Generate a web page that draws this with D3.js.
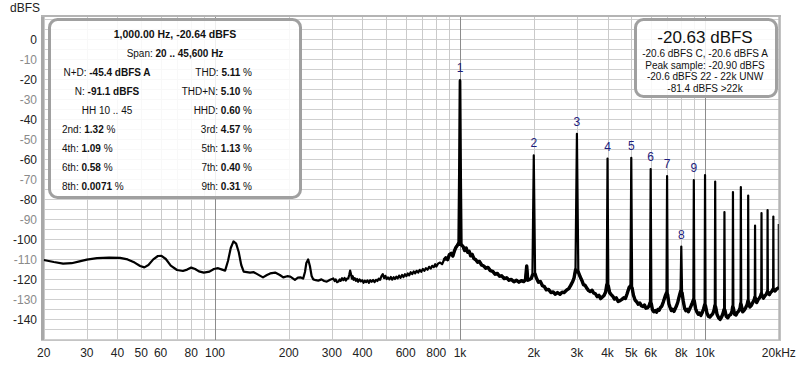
<!DOCTYPE html>
<html>
<head>
<meta charset="utf-8">
<script src="https://cdn.jsdelivr.net/npm/d3@7"></script>
<style>
  html, body { margin: 0; padding: 0; background: #fff; }
  svg { display: block; font-family: "Liberation Sans", Arial, sans-serif; }
</style>
</head>
<body>
<div id="main"></div>
<script>
// noise floor of the spectrum, [Hz, dBFS]
const noiseFloor = [
  [20,-110.5],[22,-111.5],[24,-112.3],[26,-112.1],[28,-111.2],[30,-110.3],[33,-109.6],[37,-109.3],[41,-109.4],
  [44,-110.2],[47,-111.8],[49.5,-113.5],[51.5,-114.2],[53.5,-113],[56,-110.2],[58.5,-108.5],[60.5,-108.4],
  [63,-110],[66,-113.3],[70,-115.5],[74,-116],[77,-115.3],[80,-114.3],[83,-115],[86,-116.2],[90,-116.8],
  [95,-116.3],[99,-115],[103,-114.6],[107,-115.3],[110,-115.8],[113,-111],[116,-104.5],[119,-101.2],
  [122,-102.3],[125,-106.5],[128,-113],[131,-116.3],[139,-116.8],[144,-116.6],[150,-117.8],[157,-119.2],
  [163,-118],[168,-117.2],[176,-116.8],[184,-118],[190,-119.2],[197,-118.6],[203,-118.8],[212,-120.4],
  [218,-119.3],[224,-119.2],[229,-119.8],[233,-116.5],[236,-112],[240,-110.2],[244,-113.5],[248,-118.5],
  [252,-120.2],[258,-120.6],[264,-120.8],[272,-120.2],[279,-121],[286,-121.3],[295,-120.4],
  [304,-119.7],[308,-121],[311,-120.2],[315,-121.6],[319,-121.3],[323,-120.2],[326,-120.9],[330,-119.6],
  [334,-120.6],[338,-119.5],[342,-120.8],[346,-119.8],[350,-119.7],[353,-118],[356,-115.8],[359,-117.5],
  [362,-119.8],[365,-118.6],[368,-120.4],[372,-119.6],[376,-120.9],[380,-120],[384,-121.4],[389,-120.2],
  [394,-121.2],[399,-120.6],[404,-121.9],[409,-120.8],[414,-121.6],[419,-120.7],[425,-121.9],[430,-120.6],
  [436,-121.4],[442,-120.5],[448,-121.6],[454,-120.4],[460,-121],[466,-119.8],[472,-120.4],[478,-118.6],
  [484,-117.6],[490,-119.6],[496,-118.4],[502,-120],[508,-119.2],[515,-120.2],[522,-119],[529,-120.3],
  [536,-119.1],[543,-120],[550,-118.8],[557,-119.7],[564,-118.3],[572,-119.4],[580,-118],[588,-119],
  [596,-117.6],[604,-118.6],[612,-117.2],[620,-118.2],[629,-116.6],[638,-117.6],[647,-116.2],[656,-117.2],
  [665,-115.9],[675,-116.8],[685,-115.4],[695,-116.4],[705,-115],[715,-115.9],[726,-114.6],[737,-115.4],
  [748,-113.9],[759,-114.8],[770,-113.4],[781,-114.1],[792,-112.6],
  [800,-113.8],[815,-112.2],[829,-111.8],[845,-112.6],[860,-110.5],[875,-109.4],[890,-110.3],[905,-107.8],
  [920,-107.2],[935,-108.5],[950,-105.8],[962,-104.2],[975,-103.2],[985,-102.3],
  [1015,-103],[1030,-103.8],[1045,-105.8],[1060,-104.5],[1075,-106.6],[1090,-106.2],[1105,-108.4],
  [1120,-107.6],[1140,-109.8],[1160,-110.4],[1180,-111.6],[1200,-111.2],[1225,-113],[1250,-113.5],
  [1275,-114.6],[1300,-114.2],[1330,-115.8],[1360,-116.2],[1390,-117.6],[1420,-117.2],[1450,-118.6],
  [1480,-118.4],[1515,-119.8],[1550,-119.4],[1585,-120.6],[1620,-120.2],[1660,-121.4],[1700,-120.6],
  [1740,-121.6],[1780,-120.8],[1820,-121.3],[1850,-120.4],[1872,-113.5],[1890,-120.6],[1925,-120.2],
  [1955,-119.7],[1975,-118],
  [2025,-117.5],[2050,-119.5],[2090,-121.6],[2130,-121.3],[2170,-123.4],[2210,-123.8],[2250,-125.4],
  [2300,-125.2],[2350,-126.8],[2400,-126.5],[2450,-127.6],[2500,-126.8],[2560,-127.6],[2610,-126.6],
  [2660,-126.8],[2720,-125.6],[2780,-124.8],[2830,-123.2],[2880,-121.4],[2920,-119.5],[2960,-115.5],
  [3040,-116.5],[3090,-118.8],[3140,-120.6],[3190,-122.8],[3240,-123.2],[3300,-124.8],[3350,-125.8],
  [3400,-126.3],[3460,-125.6],[3510,-127],[3570,-127.4],[3630,-128.8],[3690,-128.2],[3750,-129.8],
  [3810,-129],[3870,-128.2],[3930,-126.5],[3970,-123],
  [4030,-123.5],[4080,-126.8],[4140,-127.8],[4200,-128.6],[4270,-130],[4340,-129.4],[4420,-131.2],
  [4500,-130.8],[4580,-130.2],[4660,-129.4],[4730,-129.8],[4800,-127.6],[4900,-124.2],[4960,-123.5],
  [5040,-124.5],[5100,-128],[5180,-130.5],[5260,-131.4],[5340,-132.6],[5420,-132],[5500,-133.4],
  [5580,-133.8],[5660,-133],[5740,-134.6],[5820,-134.4],[5900,-133.6],[5960,-132],
  [6040,-132.5],[6100,-135.4],[6180,-136.4],[6260,-135.8],[6340,-136.6],[6420,-135.2],[6500,-135.6],
  [6580,-134.2],[6660,-133.6],[6760,-131.4],[6880,-128.5],[6960,-127],
  [7040,-128],[7120,-132.5],[7200,-134.2],[7290,-135.8],[7380,-135.2],[7470,-136.2],[7560,-134.8],
  [7650,-133.4],[7740,-131.6],[7850,-128.6],[7940,-126.3],
  [8060,-127],[8150,-131],[8250,-134.6],[8350,-135.8],[8450,-135.2],[8550,-136.4],[8650,-135],
  [8760,-133.6],[8880,-131.8],[8960,-130.5],
  [9040,-131],[9150,-134.8],[9260,-136.4],[9380,-137.6],[9500,-137],[9620,-138.2],[9740,-136.8],
  [9860,-135],[9960,-133],
  [10050,-133.5],[10180,-137],[10320,-138.6],[10460,-139],[10600,-138.2],[10750,-137.4],[10880,-135.6],[10960,-133.5],
  [11050,-134],[11200,-137.8],[11360,-139.4],[11520,-140.2],[11680,-139],[11820,-137.5],[11960,-135.2],
  [12050,-135.5],[12200,-138.6],[12380,-139.4],[12550,-138.2],[12720,-137.8],[12880,-136.2],[12960,-134],
  [13050,-134.6],[13200,-137.6],[13380,-138],[13560,-136.6],[13740,-136],[13900,-134.5],[13970,-132.5],
  [14050,-133],[14250,-136.4],[14450,-135.6],[14650,-134.4],[14850,-132.8],[14970,-131],
  [15050,-131.5],[15250,-134],[15450,-133.2],[15650,-131.8],[15850,-130.6],[15960,-129.2],
  [16050,-129.6],[16250,-131.8],[16450,-130.4],[16650,-129.6],[16850,-128.6],[16960,-127.4],
  [17050,-127.8],[17300,-129.6],[17550,-128.4],[17800,-127.6],[17960,-126.4],
  [18050,-126.8],[18300,-127.8],[18550,-126.6],[18800,-126],[18960,-125],
  [19050,-125.4],[19300,-126],[19600,-125],[19850,-124.6],[20000,-124.2]
];

// harmonic peaks
const harmonicHz = [1000,2000,3000,4000,5000,6000,7000,8000,9000,10000,11000,12000,13000,14000,15000,16000,17000,18000,19000,20000];
const harmonicDb = [-20.6,-58.2,-47.4,-59.8,-59.4,-65,-68.5,-103.8,-70.6,-68,-71.3,-86.5,-76.5,-74,-78.3,-93.3,-87,-85.5,-88.8,-92.5];
const labelledHarmonics = 9;

const freqTicks = [20,30,40,50,60,80,100,200,300,400,600,800,1000,2000,3000,4000,5000,6000,8000,10000,20000];
const freqTickLabels = ["20","30","40","50","60","80","100","200","300","400","600","800","1k","2k","3k","4k","5k","6k","8k","10k","20kHz"];
const dbTicks = [0,-10,-20,-30,-40,-50,-60,-70,-80,-90,-100,-110,-120,-130,-140];

const readoutTitle = "1,000.00 Hz, -20.64 dBFS";
const readoutSpan = ["Span: ", "20 .. 45,600 Hz", ""];
const leftStats = [["N+D: ", "-45.4 dBFS A", ""], ["N: ", "-91.1 dBFS", ""], ["HH 10 .. 45", "", ""]];
const rightStats = [["THD: ", "5.11", " %"], ["THD+N: ", "5.10", " %"], ["HHD: ", "0.60", " %"]];
const evenHarmonics = [["2nd: ", "1.32", " %"], ["4th: ", "1.09", " %"], ["6th: ", "0.58", " %"], ["8th: ", "0.0071", " %"]];
const oddHarmonics = [["3rd: ", "4.57", " %"], ["5th: ", "1.13", " %"], ["7th: ", "0.40", " %"], ["9th: ", "0.31", " %"]];

const levelTitle = "-20.63 dBFS";
const levelLines = ["-20.6 dBFS C, -20.6 dBFS A", "Peak sample: -20.90 dBFS", "-20.6 dBFS 22 - 22k UNW", "-81.4 dBFS >22k"];

const width = 800, height = 365;
const plotLeft = 43.7, plotRight = 778.8, plotTop = 16, plotBottom = 340;

const x = d3.scaleLog().domain([20, 20000]).range([plotLeft, plotRight]);
const y = d3.scaleLinear().domain([-150.5, 11.5]).range([plotBottom, plotTop]);

const svg = d3.select("#main").append("svg").attr("width", width).attr("height", height);

// plot background + grid
svg.append("rect").attr("x", plotLeft).attr("y", plotTop)
  .attr("width", plotRight - plotLeft).attr("height", plotBottom - plotTop).attr("fill", "#fff");

const gridHz = [];
[10, 100, 1000].forEach((dec) => {
  for (let k = 1; k <= 9; k++) if (dec * k >= 20) gridHz.push(dec * k);
});
gridHz.push(10000, 20000);

const grid = svg.append("g");
grid.selectAll("line.h").data(d3.range(10, -151, -5)).enter().append("line")
  .attr("x1", plotLeft).attr("x2", plotRight)
  .attr("y1", (d) => Math.round(y(d)) + 0.5).attr("y2", (d) => Math.round(y(d)) + 0.5)
  .attr("stroke", "#cfcfcf");
grid.selectAll("line.v").data(gridHz).enter().append("line")
  .attr("x1", (d) => Math.round(x(d)) + 0.5).attr("x2", (d) => Math.round(x(d)) + 0.5)
  .attr("y1", plotTop).attr("y2", plotBottom)
  .attr("stroke", (d) => (d === 100 || d === 1000 || d === 10000 ? "#8c8c8c" : "#cacaca"));

// frame
svg.append("rect").attr("x", 41).attr("y", 15).attr("width", 3).attr("height", plotBottom - 15 + 1).attr("fill", "#a8a8a8");
svg.append("rect").attr("x", 41).attr("y", 15).attr("width", plotRight - 41 + 2).attr("height", 2).attr("fill", "#b4b4b4");
svg.append("rect").attr("x", plotRight - 0.5).attr("y", 15).attr("width", 2.5).attr("height", plotBottom - 15 + 1).attr("fill", "#b4b4b4");
svg.append("line").attr("x1", 41).attr("x2", plotRight + 2).attr("y1", plotBottom + 0.5).attr("y2", plotBottom + 0.5).attr("stroke", "#c4c4c4");

// axes labels
svg.append("text").attr("x", 10).attr("y", 12).attr("font-size", 12).attr("fill", "#222").text("dBFS");

svg.append("g").selectAll("text").data(dbTicks).enter().append("text")
  .attr("x", 37).attr("y", (d) => y(d) + 4.5)
  .attr("text-anchor", "end").attr("font-size", 12)
  .attr("fill", (d) => (d % 20 === 0 ? "#222" : "#8a8a8a"))
  .text((d) => d);

svg.append("g").selectAll("text").data(freqTicks).enter().append("text")
  .attr("x", (d) => x(d)).attr("y", 357)
  .attr("text-anchor", "middle").attr("font-size", 12).attr("fill", "#222")
  .text((d, i) => freqTickLabels[i]);

// spectrum: floor merged with harmonic peaks
const spectrum = noiseFloor.concat(harmonicHz.map((f, i) => [f, harmonicDb[i]])).sort((a, b) => a[0] - b[0]);

svg.append("clipPath").attr("id", "plotClip").append("rect")
  .attr("x", plotLeft).attr("y", plotTop).attr("width", plotRight - plotLeft).attr("height", plotBottom - plotTop);

const line = d3.line().x((d) => x(d[0])).y((d) => y(d[1]));
const plot = svg.append("g").attr("clip-path", "url(#plotClip)");

// dense noise above ~850 Hz reads as a thicker band
plot.append("path").datum(noiseFloor.filter((d) => d[0] >= 850))
  .attr("fill", "none").attr("stroke", "#000").attr("stroke-width", 3.4)
  .attr("stroke-linejoin", "round")
  .attr("d", line);

plot.append("path").datum(spectrum)
  .attr("fill", "none").attr("stroke", "#000").attr("stroke-width", 2.2)
  .attr("stroke-linejoin", "round")
  .attr("d", line);

// fundamental is drawn a little heavier
plot.append("line")
  .attr("x1", x(harmonicHz[0])).attr("x2", x(harmonicHz[0]))
  .attr("y1", y(-102)).attr("y2", y(harmonicDb[0]))
  .attr("stroke", "#000").attr("stroke-width", 2.6);

// harmonic numbers
svg.append("g").selectAll("text").data(harmonicHz.slice(0, labelledHarmonics)).enter().append("text")
  .attr("x", (d) => x(d)).attr("y", (d, i) => y(harmonicDb[i]) - 8)
  .attr("text-anchor", "middle").attr("font-size", 12).attr("fill", "#1c1c7c")
  .text((d, i) => i + 1);

// readout box
function richText(g, xPos, yPos, anchor, parts) {
  const t = g.append("text").attr("x", xPos).attr("y", yPos).attr("text-anchor", anchor)
    .attr("font-size", 10).attr("fill", "#111").attr("xml:space", "preserve");
  parts.forEach((p, i) => {
    if (p) t.append("tspan").attr("font-weight", i === 1 ? "bold" : "normal").text(p);
  });
  return t;
}

const box = svg.append("g");
box.append("rect").attr("x", 49.5).attr("y", 19.5).attr("width", 251).attr("height", 178).attr("rx", 8)
  .attr("fill", "#fff").attr("fill-opacity", 0.86).attr("stroke", "#a0a0a0").attr("stroke-width", 3);
box.append("text").attr("x", 175).attr("y", 38).attr("text-anchor", "middle")
  .attr("font-size", 10.5).attr("font-weight", "bold").attr("fill", "#111").text(readoutTitle);
richText(box, 175, 57, "middle", readoutSpan);
leftStats.forEach((s, i) => richText(box, 107, 76 + i * 19, "middle", s));
rightStats.forEach((s, i) => richText(box, 252, 76 + i * 19, "end", s));
evenHarmonics.forEach((s, i) => richText(box, 62, 133 + i * 19, "start", s));
oddHarmonics.forEach((s, i) => richText(box, 252, 133 + i * 19, "end", s));

// level box
const lvl = svg.append("g");
lvl.append("rect").attr("x", 635.5).attr("y", 19.5).attr("width", 141).attr("height", 77).attr("rx", 8)
  .attr("fill", "#fff").attr("fill-opacity", 0.86).attr("stroke", "#a0a0a0").attr("stroke-width", 3);
lvl.append("text").attr("x", 705).attr("y", 43).attr("text-anchor", "middle")
  .attr("font-size", 17).attr("fill", "#111").text(levelTitle);
lvl.selectAll("text.l").data(levelLines).enter().append("text")
  .attr("x", 705).attr("y", (d, i) => 57 + i * 11.7)
  .attr("text-anchor", "middle").attr("font-size", 10).attr("fill", "#111")
  .text((d) => d);
</script>
</body>
</html>
